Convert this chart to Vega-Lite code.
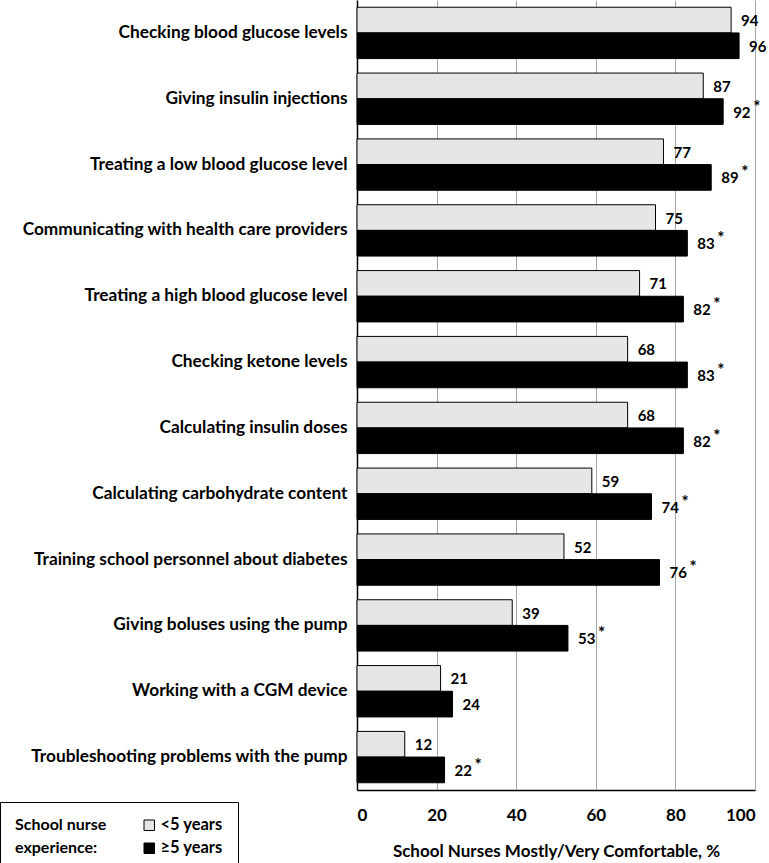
{
  "$schema": "https://vega.github.io/schema/vega-lite/v6.json",
  "autosize": {"type": "none"},
  "padding": {"left": 357, "top": 0, "right": 14, "bottom": 73},
  "width": 398,
  "height": 790,
  "background": "white",
  "config": {
    "font": "Lato",
    "view": {"stroke": null}
  },
  "data": {
    "values": [
      {"task": "Checking blood glucose levels", "group": "<5 years", "value": 94, "star": ""},
      {"task": "Checking blood glucose levels", "group": "≥5 years", "value": 96, "star": ""},
      {"task": "Giving insulin injections", "group": "<5 years", "value": 87, "star": ""},
      {"task": "Giving insulin injections", "group": "≥5 years", "value": 92, "star": "*"},
      {"task": "Treating a low blood glucose level", "group": "<5 years", "value": 77, "star": ""},
      {"task": "Treating a low blood glucose level", "group": "≥5 years", "value": 89, "star": "*"},
      {"task": "Communicating with health care providers", "group": "<5 years", "value": 75, "star": ""},
      {"task": "Communicating with health care providers", "group": "≥5 years", "value": 83, "star": "*"},
      {"task": "Treating a high blood glucose level", "group": "<5 years", "value": 71, "star": ""},
      {"task": "Treating a high blood glucose level", "group": "≥5 years", "value": 82, "star": "*"},
      {"task": "Checking ketone levels", "group": "<5 years", "value": 68, "star": ""},
      {"task": "Checking ketone levels", "group": "≥5 years", "value": 83, "star": "*"},
      {"task": "Calculating insulin doses", "group": "<5 years", "value": 68, "star": ""},
      {"task": "Calculating insulin doses", "group": "≥5 years", "value": 82, "star": "*"},
      {"task": "Calculating carbohydrate content", "group": "<5 years", "value": 59, "star": ""},
      {"task": "Calculating carbohydrate content", "group": "≥5 years", "value": 74, "star": "*"},
      {"task": "Training school personnel about diabetes", "group": "<5 years", "value": 52, "star": ""},
      {"task": "Training school personnel about diabetes", "group": "≥5 years", "value": 76, "star": "*"},
      {"task": "Giving boluses using the pump", "group": "<5 years", "value": 39, "star": ""},
      {"task": "Giving boluses using the pump", "group": "≥5 years", "value": 53, "star": "*"},
      {"task": "Working with a CGM device", "group": "<5 years", "value": 21, "star": ""},
      {"task": "Working with a CGM device", "group": "≥5 years", "value": 24, "star": ""},
      {"task": "Troubleshooting problems with the pump", "group": "<5 years", "value": 12, "star": ""},
      {"task": "Troubleshooting problems with the pump", "group": "≥5 years", "value": 22, "star": "*"}
    ]
  },
  "encoding": {
    "y": {
      "field": "task",
      "type": "nominal",
      "sort": null,
      "scale": {"paddingInner": 0.22, "paddingOuter": 0.11},
      "axis": {
        "title": null,
        "ticks": false,
        "domain": true,
        "domainColor": "black",
        "domainWidth": 1.5,
        "labelFont": "Lato",
        "labelFontWeight": "bold",
        "labelFontSize": 17.3,
        "labelColor": "black",
        "labelPadding": 10,
        "labelLimit": 400
      }
    },
    "yOffset": {"field": "group", "type": "nominal", "sort": ["<5 years", "≥5 years"], "scale": {"paddingInner": 0, "paddingOuter": 0}},
    "x": {
      "field": "value",
      "type": "quantitative",
      "scale": {"domain": [0, 100], "nice": false},
      "axis": {
        "values": [0, 20, 40, 60, 80, 100],
        "title": "School Nurses Mostly/Very Comfortable, %",
        "titleFont": "Lato",
        "titleFontWeight": "bold",
        "titleFontSize": 17,
        "titleColor": "black",
        "titlePadding": 20,
        "labelFont": "Lato",
        "labelFontWeight": "bold",
        "labelFontSize": 17,
        "labelColor": "black",
        "labelPadding": 17,
        "ticks": false,
        "domainColor": "black",
        "domainWidth": 1.5,
        "grid": true,
        "gridColor": "#a6a6a6",
        "gridWidth": 1
      }
    }
  },
  "layer": [
    {
      "mark": {"type": "bar", "stroke": "black", "strokeWidth": 1},
      "encoding": {
        "color": {
          "field": "group",
          "type": "nominal",
          "scale": {"domain": ["<5 years", "≥5 years"], "range": ["#e6e6e6", "#000000"]},
          "legend": {
            "orient": "none",
            "legendX": -357,
            "legendY": 802,
            "direction": "vertical",
            "title": ["School nurse", "experience:"],
            "titleOrient": "left",
            "titleFont": "Lato",
            "titleFontWeight": "bold",
            "titleFontSize": 16,
            "titleColor": "black",
            "titleLineHeight": 23,
            "titlePadding": 34,
            "labelFont": "Lato",
            "labelFontWeight": "bold",
            "labelFontSize": 16.5,
            "labelColor": "black",
            "labelOffset": 3,
            "symbolType": "square",
            "symbolSize": 110,
            "symbolStrokeColor": "black",
            "symbolStrokeWidth": 1,
            "rowPadding": 6,
            "padding": 15,
            "strokeColor": "black",
            "fillColor": "white"
          }
        }
      }
    },
    {
      "mark": {"type": "text", "align": "left", "baseline": "middle", "dx": 10, "dy": 1, "font": "Lato", "fontWeight": "bold", "fontSize": 15, "color": "black"},
      "encoding": {"text": {"field": "value", "type": "quantitative"}}
    },
    {
      "transform": [{"filter": "datum.star == '*'"}],
      "mark": {"type": "text", "align": "left", "baseline": "middle", "dx": 30, "dy": -4, "font": "Lato", "fontWeight": "bold", "fontSize": 17, "color": "black"},
      "encoding": {"text": {"field": "star", "type": "nominal"}}
    }
  ]
}
